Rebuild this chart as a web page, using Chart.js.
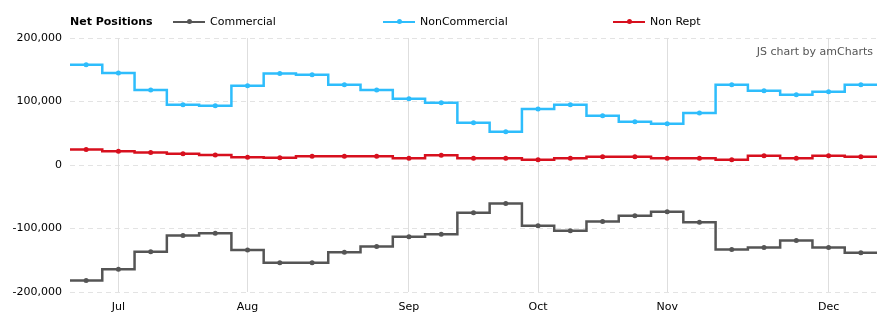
<!DOCTYPE html>
<html>
<head>
<meta charset="utf-8">
<script src="https://cdn.jsdelivr.net/npm/chart.js@4/dist/chart.umd.min.js"></script>
<style>
    html, body { margin: 0; padding: 0; background: #fff; }
    #wrap { position: relative; width: 891px; height: 326px; font-family: 'DejaVu Sans', Verdana, sans-serif; font-size: 11px; color: #000; }
    #chart { position: absolute; left: 0; top: 0; }
    .legend-title { position: absolute; left: 70px; top: 15px; font-weight: bold; }
    .legend-item { position: absolute; top: 15px; white-space: nowrap; }
    .legend-item .mark { position: absolute; left: 0; top: 6px; width: 32px; height: 2px; }
    .legend-item .dot { position: absolute; left: 14px; top: -2px; width: 5px; height: 5px; border-radius: 50%; }
    .legend-item .txt { position: absolute; left: 37px; top: 0; }
    .credit { position: absolute; right: 18px; top: 45px; color: #555; }
</style>
</head>
<body>
<div id="wrap">
    <canvas id="chart" width="891" height="326"></canvas>
    <div class="legend-title">Net Positions</div>
    <div class="credit">JS chart by amCharts</div>
</div>
<script>
// Weekly report dates (2016)
const dates = [
    '2016-06-28', '2016-07-05', '2016-07-12', '2016-07-19', '2016-07-26',
    '2016-08-02', '2016-08-09', '2016-08-16', '2016-08-23', '2016-08-30',
    '2016-09-06', '2016-09-13', '2016-09-20', '2016-09-27',
    '2016-10-04', '2016-10-11', '2016-10-18', '2016-10-25',
    '2016-11-01', '2016-11-08', '2016-11-15', '2016-11-22', '2016-11-29',
    '2016-12-06', '2016-12-13'
];
const monthNames = ['Jan', 'Feb', 'Mar', 'Apr', 'May', 'Jun', 'Jul', 'Aug', 'Sep', 'Oct', 'Nov', 'Dec'];

const commercial = [
    -182000, -164000, -136500, -111000, -107500,
    -134000, -154000, -154000, -137500, -128500,
    -113000, -109000, -75000, -60500,
    -95500, -103500, -89000, -80000,
    -73500, -90000, -133000, -130000, -119000,
    -130000, -138000
];
const nonCommercial = [
    158000, 145000, 118000, 95000, 93500,
    125000, 144000, 142000, 126500, 118000,
    104500, 98000, 66500, 52500,
    88000, 95000, 77500, 68000,
    65000, 82000, 126500, 117000, 110500,
    115500, 126500
];
const nonReportable = [
    24500, 21500, 19500, 17800, 15700,
    12100, 11500, 13600, 13600, 13600,
    10500, 15200, 10500, 10500,
    8400, 10500, 13100, 13100,
    10500, 10500, 8400, 14700, 10500,
    14700, 13100
];

const seriesNames = ['Commercial', 'NonCommercial', 'Non Rept'];
const seriesColors = ['#555555', '#2ebdfc', '#d7101e'];
const legendLeft = [173, 383, 613];

const monthStart = dates.map((d, i) => i > 0 && d.slice(5, 7) !== dates[i - 1].slice(5, 7));

// HTML legend
const wrap = document.getElementById('wrap');
seriesNames.forEach((name, i) => {
    const item = document.createElement('div');
    item.className = 'legend-item';
    item.style.left = legendLeft[i] + 'px';
    item.innerHTML = '<div class="mark" style="background:' + seriesColors[i] + '"><div class="dot" style="background:' + seriesColors[i] + '"></div></div><span class="txt">' + name + '</span>';
    wrap.appendChild(item);
});

// month grid lines + extend the first and last steps to the plot edges
const stepEnds = {
    id: 'stepEnds',
    beforeDatasetsDraw(chart) {
        const ctx = chart.ctx;
        const area = chart.chartArea;
        const xScale = chart.scales.x;
        ctx.save();
        ctx.strokeStyle = '#dedede';
        ctx.lineWidth = 1;
        ctx.beginPath();
        monthStart.forEach((m, i) => {
            if (!m) return;
            const x = Math.round(xScale.getPixelForValue(i) - 0.5) + 0.5;
            ctx.moveTo(x, area.top);
            ctx.lineTo(x, area.bottom);
        });
        ctx.stroke();
        ctx.restore();
    },
    afterDatasetsDraw(chart) {
        const ctx = chart.ctx;
        const area = chart.chartArea;
        chart.data.datasets.forEach((ds, i) => {
            const pts = chart.getDatasetMeta(i).data;
            if (!pts.length) return;
            const first = pts[0];
            const last = pts[pts.length - 1];
            ctx.save();
            ctx.strokeStyle = ds.borderColor;
            ctx.lineWidth = ds.borderWidth;
            ctx.beginPath();
            ctx.moveTo(area.left, first.y);
            ctx.lineTo(first.x, first.y);
            ctx.moveTo(last.x, last.y);
            ctx.lineTo(area.right, last.y);
            ctx.stroke();
            ctx.restore();
        });
    }
};

const makeSet = (label, data, color) => ({
    label: label,
    data: data,
    borderColor: color,
    backgroundColor: color,
    borderWidth: 2.5,
    stepped: 'middle',
    pointRadius: 2.5,
    pointBorderWidth: 0,
    pointHoverRadius: 3,
    fill: false
});

new Chart(document.getElementById('chart'), {
    type: 'line',
    data: {
        labels: dates,
        datasets: [
            makeSet(seriesNames[0], commercial, seriesColors[0]),
            makeSet(seriesNames[1], nonCommercial, seriesColors[1]),
            makeSet(seriesNames[2], nonReportable, seriesColors[2])
        ]
    },
    plugins: [stepEnds],
    options: {
        responsive: false,
        animation: false,
        layout: { padding: { top: 38, right: 14, left: 0, bottom: 0 } },
        plugins: {
            legend: { display: false },
            tooltip: { enabled: false }
        },
        scales: {
            x: {
                type: 'category',
                offset: true,
                afterFit: scale => { scale.height = 34; },
                grid: { drawOnChartArea: false, drawTicks: false, color: 'rgba(0,0,0,0)' },
                border: { display: false },
                ticks: {
                    autoSkip: false,
                    maxRotation: 0,
                    padding: 9,
                    color: '#000',
                    font: { family: "'DejaVu Sans', sans-serif", size: 11 },
                    callback: function (value, index) {
                        return monthStart[index] ? monthNames[parseInt(dates[index].slice(5, 7), 10) - 1] : null;
                    }
                }
            },
            y: {
                min: -200000,
                max: 200000,
                afterFit: scale => { scale.width = 70; },
                grid: {
                    color: '#e3e3e3',
                    drawTicks: false
                },
                border: { display: false, dash: [5, 4] },
                ticks: {
                    stepSize: 100000,
                    padding: 8,
                    color: '#000',
                    font: { family: "'DejaVu Sans', sans-serif", size: 11 },
                    callback: value => value.toLocaleString('en-US')
                }
            }
        }
    }
});
</script>
</body>
</html>
